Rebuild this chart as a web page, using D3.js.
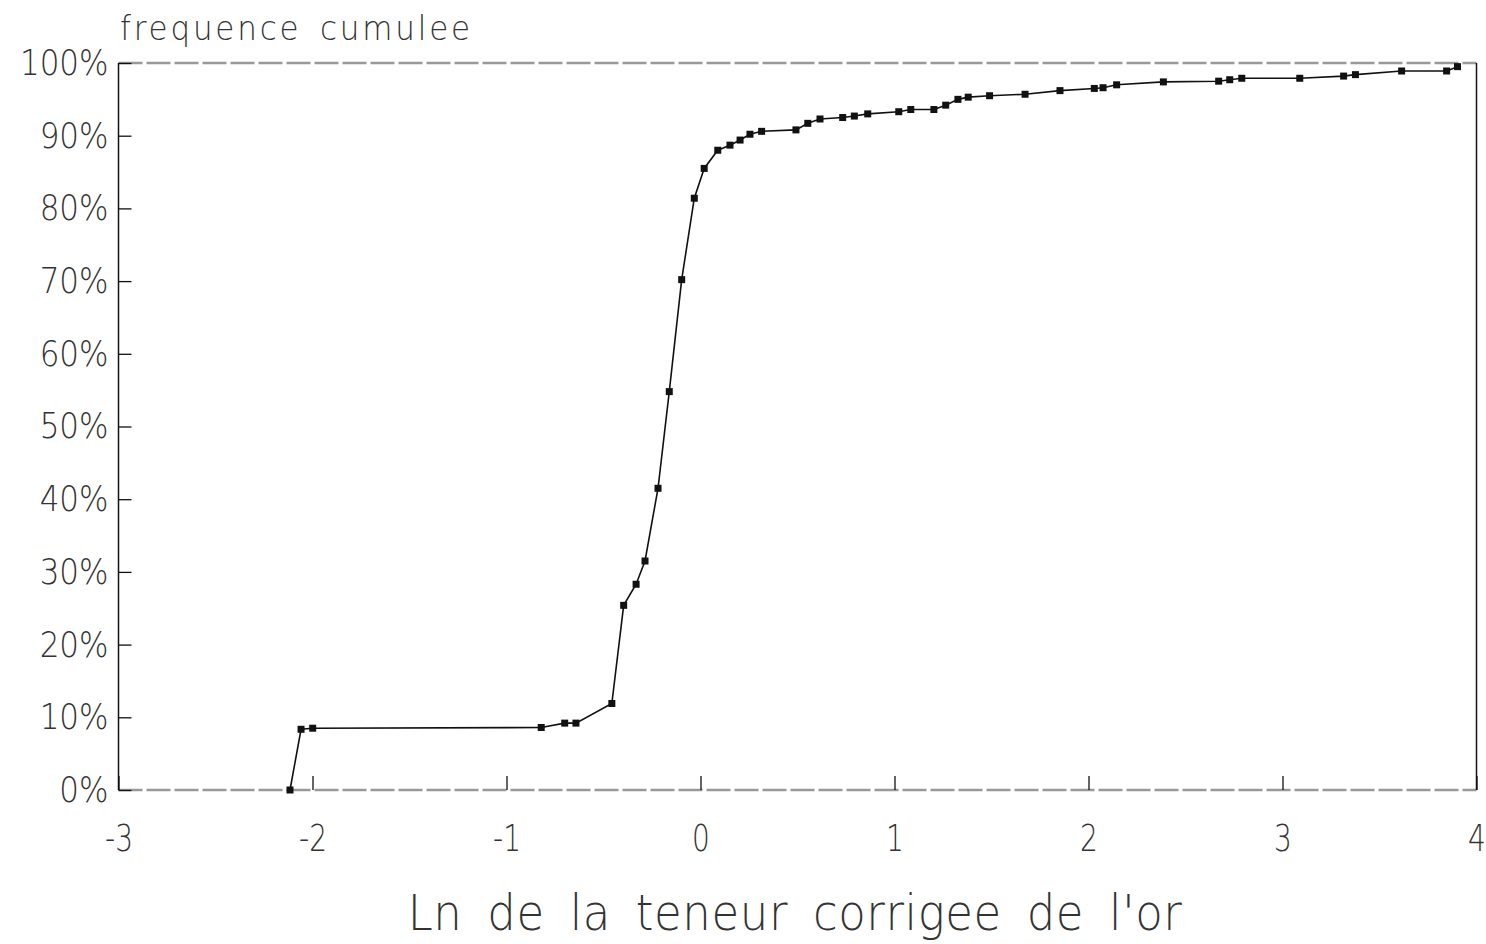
<!DOCTYPE html>
<html>
<head>
<meta charset="utf-8">
<script src="https://cdn.jsdelivr.net/npm/d3@7"></script>
<style>
  body { margin: 0; background: #fff; }
  text { font-family: "DejaVu Sans", "Liberation Sans", sans-serif; font-weight: 200; fill: #333; }
</style>
</head>
<body>
<svg id="chart" width="1486" height="944"></svg>
<script>
// ln of corrected gold grade vs cumulative frequency (%)
var lnGrade = [-2.116, -2.059, -1.999, -0.821, -0.700, -0.642, -0.457, -0.396, -0.332, -0.286,
  -0.219, -0.161, -0.097, -0.032, 0.019, 0.089, 0.152, 0.204, 0.255, 0.315,
  0.492, 0.553, 0.616, 0.733, 0.793, 0.862, 1.022, 1.084, 1.203, 1.264,
  1.327, 1.380, 1.490, 1.673, 1.853, 2.030, 2.075, 2.145, 2.386, 2.671,
  2.728, 2.790, 3.089, 3.315, 3.376, 3.614, 3.846, 3.902];
var cumFreq = [0, 8.35, 8.5, 8.6, 9.2, 9.2, 11.9, 25.4, 28.3, 31.5,
  41.5, 54.8, 70.2, 81.4, 85.5, 88.0, 88.7, 89.4, 90.2, 90.6,
  90.8, 91.7, 92.3, 92.5, 92.7, 93.0, 93.3, 93.6, 93.6, 94.2,
  95.0, 95.3, 95.5, 95.7, 96.2, 96.5, 96.6, 97.0, 97.4, 97.5,
  97.7, 97.9, 97.9, 98.2, 98.4, 98.9, 98.9, 99.5];
var xTicks = [-3, -2, -1, 0, 1, 2, 3, 4];
var yTicks = [0, 10, 20, 30, 40, 50, 60, 70, 80, 90, 100];

var points = lnGrade.map((v, i) => ({x: v, y: cumFreq[i]}));

var svg = d3.select("#chart");
var x = d3.scaleLinear().domain([-3, 4]).range([118.5, 1476.5]);
var y = d3.scaleLinear().domain([0, 100]).range([790, 63]);

// frame: top and bottom are grey dashed, sides solid
svg.append("line")
    .attr("x1", x(-3)).attr("x2", x(4)).attr("y1", y(100)).attr("y2", y(100))
    .attr("stroke", "#999").attr("stroke-width", 2.5).attr("stroke-dasharray", "24,4");
svg.append("line")
    .attr("x1", x(-3)).attr("x2", x(4)).attr("y1", y(0)).attr("y2", y(0))
    .attr("stroke", "#999").attr("stroke-width", 2.5).attr("stroke-dasharray", "24,4");
svg.append("line")
    .attr("x1", x(-3)).attr("x2", x(-3)).attr("y1", y(100)).attr("y2", y(0))
    .attr("stroke", "#111").attr("stroke-width", 1.5);
svg.append("line")
    .attr("x1", x(4)).attr("x2", x(4)).attr("y1", y(100)).attr("y2", y(0))
    .attr("stroke", "#111").attr("stroke-width", 1.5);

var yAxis = svg.append("g")
    .attr("transform", `translate(${x(-3)},0)`)
    .call(d3.axisLeft(y).tickValues(yTicks).tickSize(-13).tickPadding(10).tickFormat(d => d + "%"));
yAxis.select(".domain").remove();
yAxis.selectAll(".tick line").attr("stroke", "#111").attr("stroke-width", 1.3);
yAxis.selectAll(".tick text").attr("font-size", 31).attr("fill", "#333")
    .attr("transform", "scale(1,1.15)")
    .style("font-family", "'DejaVu Sans', sans-serif");

var xAxis = svg.append("g")
    .attr("transform", `translate(0,${y(0)})`)
    .call(d3.axisBottom(x).tickValues(xTicks).tickSize(-14).tickFormat(d => String(d)));
xAxis.select(".domain").remove();
xAxis.selectAll(".tick line").attr("stroke", "#111").attr("stroke-width", 1.3);
xAxis.selectAll(".tick text").attr("font-size", 28).attr("fill", "#444")
    .attr("y", 0).attr("dy", "0.71em")
    .attr("transform", "translate(0,35) scale(1,1.3)")
    .style("font-family", "'DejaVu Sans', sans-serif");

// curve
svg.append("path")
    .datum(points)
    .attr("fill", "none")
    .attr("stroke", "#111")
    .attr("stroke-width", 1.6)
    .attr("d", d3.line().x(d => x(d.x)).y(d => y(d.y)));

svg.append("g")
  .selectAll("rect")
  .data(points)
  .join("rect")
    .attr("x", d => x(d.x) - 3.5)
    .attr("y", d => y(d.y) - 3.5)
    .attr("width", 7)
    .attr("height", 7)
    .attr("fill", "#111");

svg.append("text")
    .attr("transform", "translate(120,40) scale(1,1.1)")
    .attr("font-size", 31)
    .attr("letter-spacing", 2.8)
    .attr("word-spacing", 6)
    .text("frequence cumulee");

svg.append("text")
    .attr("transform", "translate(795,930) scale(1,1.1)")
    .attr("text-anchor", "middle")
    .attr("font-size", 45)
    .attr("letter-spacing", 0.6)
    .attr("word-spacing", 10)
    .text("Ln de la teneur corrigee de l'or");
</script>
</body>
</html>
